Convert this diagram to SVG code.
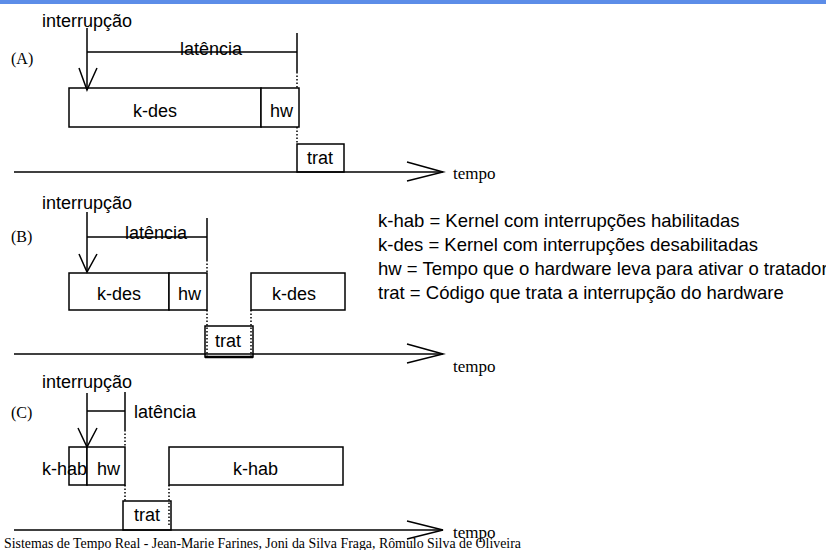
<svg xmlns="http://www.w3.org/2000/svg" width="826" height="550" viewBox="0 0 826 550">
<defs>
<style>
.ln{stroke:#000;stroke-width:1.5;fill:none}
.dt{stroke:#000;stroke-width:1.5;fill:none;stroke-dasharray:1.5 2}
.bx{stroke:#000;stroke-width:1.5;fill:#fff}
.a{font-family:"Liberation Sans",Arial,sans-serif;font-size:18px;fill:#000}
.t{font-family:"Liberation Serif","Times New Roman",serif;font-size:16px;fill:#000}
.tp{font-family:"Liberation Serif","Times New Roman",serif;font-size:17px;fill:#000}
</style>
</defs>
<rect x="0" y="0" width="826" height="550" fill="#fff"/>
<rect x="0" y="0" width="826" height="4" fill="#5c8de8"/>

<!-- Section A -->
<g id="labelA"><text class="t" x="11" y="64">(A)</text></g>
<g id="intA"><text class="a" x="42" y="27">interrupção</text></g>
<g id="latA"><text class="a" x="180" y="55">latência</text></g>
<g id="kdesA"><rect class="bx" x="69" y="88" width="192" height="39"/><text class="a" x="133" y="117">k-des</text></g>
<g id="hwA"><rect class="bx" x="261" y="88" width="38" height="39"/><text class="a" x="270" y="117">hw</text></g>
<g id="tratA"><rect class="bx" x="297" y="144" width="47" height="28"/><text class="a" x="307" y="164">trat</text></g>
<g id="tempoA"><text class="tp" x="453" y="179">tempo</text></g>

<!-- Section B -->
<g id="labelB"><text class="t" x="11" y="242">(B)</text></g>
<g id="intB"><text class="a" x="42" y="209">interrupção</text></g>
<g id="latB"><text class="a" x="125" y="239">latência</text></g>
<g id="kdesB1"><rect class="bx" x="69" y="273" width="100" height="37"/><text class="a" x="97" y="300">k-des</text></g>
<g id="hwB"><rect class="bx" x="169" y="273" width="38" height="37"/><text class="a" x="178" y="300">hw</text></g>
<g id="kdesB2"><rect class="bx" x="251" y="273" width="94" height="37"/><text class="a" x="272" y="300">k-des</text></g>
<g id="tratB"><rect class="bx" x="205" y="326" width="48" height="31"/><text class="a" x="215" y="347">trat</text></g>
<g id="tempoB"><text class="tp" x="453" y="372">tempo</text></g>

<!-- Section C -->
<g id="labelC"><text class="t" x="11" y="418">(C)</text></g>
<g id="intC"><text class="a" x="42" y="388">interrupção</text></g>
<g id="latC"><text class="a" x="134" y="418">latência</text></g>
<g id="khabC1"><rect class="bx" x="69" y="447" width="18" height="38"/></g>
<g id="hwC"><rect class="bx" x="87" y="447" width="38" height="38"/><text class="a" x="97" y="475">hw</text></g>
<g id="khabC1label"><text class="a" x="42" y="475">k-hab</text></g>
<g id="khabC2"><rect class="bx" x="169" y="447" width="174" height="38"/><text class="a" x="233" y="475">k-hab</text></g>
<g id="tratC"><rect class="bx" x="123" y="501" width="48" height="29"/><text class="a" x="134" y="521">trat</text></g>
<g id="tempoC"><text class="tp" x="453" y="538">tempo</text></g>

<!-- Legend -->
<g id="legend">
<text class="a" x="378" y="227" style="font-size:18.5px">k-hab = Kernel com interrupções habilitadas</text>
<text class="a" x="378" y="251" style="font-size:18.5px">k-des = Kernel com interrupções desabilitadas</text>
<text class="a" x="378" y="275" style="font-size:18.5px">hw = Tempo que o hardware leva para ativar o tratador</text>
<text class="a" x="378" y="299" style="font-size:18.5px">trat = Código que trata a interrupção do hardware</text>
</g>

<g id="connectors">
<!-- A -->
<line class="ln" x1="14" y1="172" x2="443" y2="172"/>
<polyline class="ln" points="407,162 443,172 407,181"/>
<line class="ln" x1="87" y1="28" x2="87" y2="90"/>
<polyline class="ln" points="79,68 87,90 97,68"/>
<line class="ln" x1="87" y1="52" x2="297" y2="52"/>
<line class="ln" x1="297" y1="33" x2="297" y2="72"/>
<line class="dt" x1="297" y1="72" x2="297" y2="88"/>
<line class="dt" x1="297" y1="127" x2="297" y2="144"/>
<!-- B -->
<line class="ln" x1="14" y1="354" x2="443" y2="354"/>
<polyline class="ln" points="407,344 443,354 407,363"/>
<line class="ln" x1="87" y1="212" x2="87" y2="272"/>
<polyline class="ln" points="79,254 87,272 97,254"/>
<line class="ln" x1="87" y1="237" x2="207" y2="237"/>
<line class="ln" x1="207" y1="218" x2="207" y2="260"/>
<line class="dt" x1="207" y1="260" x2="207" y2="273"/>
<line class="dt" x1="207" y1="310" x2="207" y2="356"/>
<line class="dt" x1="251" y1="310" x2="251" y2="356"/>
<line class="ln" x1="205" y1="357" x2="253" y2="357" style="stroke-width:2.5"/>
<!-- C -->
<line class="ln" x1="14" y1="530" x2="443" y2="530"/>
<polyline class="ln" points="407,521 443,530 407,539"/>
<line class="ln" x1="87" y1="393" x2="87" y2="447"/>
<polyline class="ln" points="78,428 87,447 97,428"/>
<line class="ln" x1="87" y1="411" x2="125" y2="411"/>
<line class="ln" x1="125" y1="392" x2="125" y2="430"/>
<line class="dt" x1="125" y1="430" x2="125" y2="447"/>
<line class="dt" x1="125" y1="485" x2="125" y2="501"/>
<line class="dt" x1="169" y1="485" x2="169" y2="527"/>
</g>

<g id="footer"><text class="t" x="4" y="548" style="font-size:14px" textLength="517" lengthAdjust="spacingAndGlyphs">Sistemas de Tempo Real - Jean-Marie Farines, Joni da Silva Fraga, Rômulo Silva de Oliveira</text></g>
</svg>
